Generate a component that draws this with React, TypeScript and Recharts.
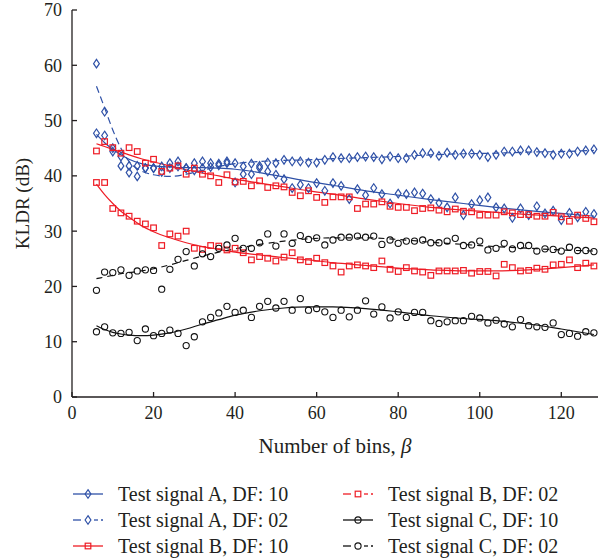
import React from 'react'
import { ComposedChart, Line, Scatter, XAxis, YAxis } from 'recharts'

const BLUE = '#2f51a7'
const RED = '#ee1c25'
const BLACK = '#111111'
const INK = '#231f20'
const serif = { fontFamily: 'Liberation Serif' }

// bin counts where KLDR was evaluated
const bins = [
  6, 8, 10, 12, 14, 16, 18, 20, 22, 24, 26, 28, 30, 32, 34, 36, 38, 40,
  42, 44, 46, 48, 50, 52, 54, 56, 58, 60, 62, 64, 66, 68, 70, 72, 74, 76, 78, 80, 82, 84,
  86, 88, 90, 92, 94, 96, 98, 100, 102, 104, 106, 108, 110, 112, 114, 116, 118, 120, 122, 124, 126, 128
]
const xTicks = [0, 20, 40, 60, 80, 100, 120]
const yTicks = [0, 10, 20, 30, 40, 50, 60, 70]

// measured KLDR (dB)
const sigA10 = [
  47.7, 47.3, 45.0, 43.5, 41.8, 41.8, 41.4, 41.4, 40.7, 41.4, 41.7, 41.4, 41.0, 41.4, 41.6, 41.9, 42.3, 38.8,
  40.3, 40.3, 41.4, 40.8, 40.2, 39.4, 37.8, 38.4, 37.8, 38.7, 37.3, 38.7, 38.2, 35.8, 37.6, 36.5, 37.8, 36.7, 35.0, 36.8, 36.7, 37.0,
  36.8, 35.8, 35.1, 34.3, 36.1, 32.9, 34.9, 35.6, 36.1, 34.3, 34.1, 32.4, 34.1, 32.9, 34.5, 33.2, 33.7, 32.0, 33.3, 32.5, 33.5, 33.1
]
const sigA02 = [
  60.3, 51.6, 44.4, 41.8, 40.6, 39.9, 41.4, 41.4, 41.7, 42.3, 42.6, 41.4, 42.3, 42.6, 42.3, 42.2, 42.6, 42.3,
  41.7, 42.2, 41.8, 42.4, 42.3, 42.9, 42.6, 42.6, 42.4, 42.4, 42.9, 43.4, 43.2, 43.2, 43.4, 43.5, 43.4, 43.0, 43.5, 43.2, 43.2, 43.8,
  44.1, 44.1, 43.6, 44.2, 43.8, 44.0, 44.0, 43.8, 43.4, 43.8, 44.4, 44.4, 44.6, 44.6, 44.3, 44.1, 43.8, 44.0, 44.0, 44.4, 44.6, 44.8
]
const sigB10 = [
  44.5, 46.2, 45.1, 44.1, 45.1, 44.4, 42.3, 43.0, 40.8, 41.4, 41.8, 40.3, 41.4, 40.3, 40.0, 38.8, 40.2, 38.9,
  39.0, 38.2, 39.1, 37.9, 38.2, 38.0, 37.0, 36.4, 37.3, 36.1, 35.2, 36.2, 36.2, 36.2, 34.1, 34.9, 34.9, 35.3, 34.5, 34.3, 34.3, 33.7,
  34.1, 34.2, 33.8, 33.5, 34.0, 33.6, 33.5, 32.9, 32.9, 32.9, 33.5, 33.3, 33.0, 33.0, 32.7, 32.7, 33.4, 32.6, 31.8, 32.9, 32.3, 31.7
]
const sigB02 = [
  38.8, 38.8, 34.1, 33.3, 32.7, 31.8, 31.3, 30.6, 27.4, 29.5, 29.1, 30.0, 26.9, 26.7, 27.4, 27.3, 26.6, 26.9,
  26.1, 24.8, 25.4, 25.1, 24.6, 25.3, 26.1, 24.8, 24.5, 25.1, 24.3, 23.7, 22.6, 23.7, 23.9, 23.7, 23.4, 24.6, 23.1, 22.7, 23.4, 22.8,
  22.6, 22.0, 22.8, 22.8, 22.8, 22.9, 22.4, 22.7, 22.7, 21.9, 24.0, 23.4, 22.8, 22.9, 23.3, 23.1, 23.9, 24.0, 24.8, 23.4, 24.2, 23.7
]
const sigC10 = [
  11.8, 12.7, 11.6, 11.5, 11.7, 10.2, 12.3, 11.1, 11.5, 12.1, 11.5, 9.3, 10.9, 13.6, 14.4, 15.2, 16.4, 15.3,
  15.7, 14.4, 16.4, 17.3, 16.1, 17.3, 15.7, 17.8, 15.7, 16.0, 15.4, 14.4, 15.7, 14.5, 15.7, 17.4, 15.0, 16.3, 14.3, 15.4, 14.4, 15.3,
  15.3, 13.8, 13.3, 13.6, 13.8, 13.8, 14.6, 14.3, 13.4, 13.9, 13.2, 12.7, 14.0, 12.9, 12.7, 12.6, 13.4, 11.3, 11.5, 11.0, 11.8, 11.6
]
const sigC02 = [
  19.3, 22.6, 22.5, 23.0, 22.0, 22.8, 23.0, 22.9, 19.5, 23.1, 24.9, 26.3, 23.7, 25.9, 25.4, 26.9, 27.5, 28.7,
  26.9, 26.9, 27.9, 29.5, 27.3, 29.5, 27.8, 29.2, 28.5, 28.8, 27.5, 28.4, 28.9, 28.9, 29.1, 28.9, 29.1, 27.6, 28.4, 27.8, 28.2, 28.2,
  28.4, 27.9, 27.9, 28.2, 28.7, 27.4, 27.5, 28.2, 26.6, 26.9, 27.8, 26.8, 27.4, 27.4, 26.4, 26.8, 26.7, 26.4, 27.1, 26.5, 26.5, 26.3
]

// smoothed trend curves, sampled at fitBins
const fitBins = [6, 8, 10, 12, 14, 17, 20, 24, 28, 32, 36, 40, 46, 52, 58, 64, 72, 80, 88, 96, 104, 112, 120, 128]
const fitA10 = [47.5, 46.0, 44.8, 43.8, 43.0, 42.2, 41.8, 41.6, 41.5, 41.5, 41.4, 41.2, 40.6, 39.8, 39.0, 38.3, 37.3, 36.5, 35.7, 35.0, 34.3, 33.7, 33.2, 32.7]
const fitA02 = [56.2, 52.3, 48.3, 45.0, 42.6, 40.9, 40.2, 39.9, 40.3, 41.0, 41.7, 42.2, 42.6, 42.8, 42.9, 43.1, 43.3, 43.5, 43.8, 44.0, 44.1, 44.3, 44.4, 44.6]
const fitB10 = [45.8, 45.3, 44.8, 44.3, 43.8, 43.1, 42.5, 41.8, 41.1, 40.5, 40.0, 39.4, 38.7, 38.0, 37.3, 36.7, 35.8, 35.0, 34.3, 33.8, 33.4, 33.0, 32.7, 32.4]
const fitB02 = [38.5, 36.6, 35.0, 33.6, 32.5, 31.0, 29.9, 28.8, 27.9, 27.2, 26.7, 26.2, 25.7, 25.2, 24.8, 24.3, 23.8, 23.3, 23.0, 22.8, 22.8, 23.0, 23.4, 23.9]
const fitC10 = [12.9, 12.2, 11.7, 11.4, 11.2, 11.1, 11.2, 11.6, 12.3, 13.2, 14.0, 14.8, 15.6, 16.1, 16.3, 16.3, 16.0, 15.4, 14.7, 14.2, 13.8, 13.2, 12.3, 11.3]
const fitC02 = [21.4, 21.7, 22.0, 22.3, 22.5, 22.8, 23.2, 23.9, 24.7, 25.5, 26.2, 26.8, 27.6, 28.2, 28.6, 28.8, 28.8, 28.5, 28.0, 27.6, 27.2, 26.9, 26.6, 26.4]

type MarkerKind = 'diamond' | 'square' | 'circle'

type SeriesDef = {
  name: string
  color: string
  marker: MarkerKind
  values: number[]
  fit: number[]
  lineDash?: string
  legendDashed: boolean
}

const series: SeriesDef[] = [
  { name: 'Test signal A, DF: 10', color: BLUE, marker: 'diamond', values: sigA10, fit: fitA10, legendDashed: false },
  { name: 'Test signal A, DF: 02', color: BLUE, marker: 'diamond', values: sigA02, fit: fitA02, lineDash: '7 4', legendDashed: true },
  { name: 'Test signal B, DF: 10', color: RED, marker: 'square', values: sigB10, fit: fitB10, legendDashed: false },
  { name: 'Test signal B, DF: 02', color: RED, marker: 'square', values: sigB02, fit: fitB02, legendDashed: true },
  { name: 'Test signal C, DF: 10', color: BLACK, marker: 'circle', values: sigC10, fit: fitC10, legendDashed: false },
  { name: 'Test signal C, DF: 02', color: BLACK, marker: 'circle', values: sigC02, fit: fitC02, lineDash: '6 5', legendDashed: true }
]

function MarkerShape({ cx, cy, kind, color }: { cx?: number; cy?: number; kind: MarkerKind; color: string }) {
  if (cx == null || cy == null) return null
  if (kind === 'diamond') {
    return (
      <path
        d={`M${cx},${cy - 4.3}L${cx + 2.9},${cy}L${cx},${cy + 4.3}L${cx - 2.9},${cy}Z`}
        fill='none'
        stroke={color}
        strokeWidth={1.2}
      />
    )
  }
  if (kind === 'square') {
    return <rect x={cx - 2.8} y={cy - 2.8} width={5.6} height={5.6} fill='none' stroke={color} strokeWidth={1.2} />
  }
  return <circle cx={cx} cy={cy} r={3.1} fill='none' stroke={color} strokeWidth={1.1} />
}

const XTick = ({ x, y, payload }: any) => (
  <text x={x} y={y} dy='0.71em' textAnchor='middle' fontSize={18} fill={INK} style={serif}>
    {payload.value}
  </text>
)

const YTick = ({ x, y, payload }: any) => (
  <text x={x} y={y} dy='0.355em' textAnchor='end' fontSize={18} fill={INK} style={serif}>
    {payload.value}
  </text>
)

const XTitle = ({ viewBox }: any) => {
  const cx = viewBox.x + viewBox.width / 2
  return (
    <text x={cx} y={viewBox.y + 55.5} textAnchor='middle' fontSize={21} fill={INK} style={serif}>
      Number of bins, <tspan fontStyle='italic'>β</tspan>
    </text>
  )
}

const YTitle = ({ viewBox }: any) => {
  const cx = 22
  const cy = viewBox.y + viewBox.height / 2
  return (
    <text
      x={cx}
      y={cy}
      transform={`rotate(-90 ${cx} ${cy})`}
      textAnchor='middle'
      dominantBaseline='central'
      fontSize={19}
      fill={INK}
      style={serif}
    >
      KLDR (dB)
    </text>
  )
}

function LegendIcon({ s, x, y }: { s: SeriesDef; x: number; y: number }) {
  const mid = x + 15
  return (
    <g>
      {s.legendDashed ? (
        <>
          <line x1={x} y1={y} x2={x + 8} y2={y} stroke={s.color} strokeWidth={1.3} />
          <line x1={x + 21} y1={y} x2={x + 25} y2={y} stroke={s.color} strokeWidth={1.3} />
          <line x1={x + 28} y1={y} x2={x + 30} y2={y} stroke={s.color} strokeWidth={1.3} />
        </>
      ) : (
        <line x1={x} y1={y} x2={x + 30} y2={y} stroke={s.color} strokeWidth={1.3} />
      )}
      <MarkerShape cx={mid} cy={y} kind={s.marker} color={s.color} />
    </g>
  )
}

function ChartLegend() {
  return (
    <svg width={601} height={78} style={{ position: 'absolute', left: 0, top: 480 }}>
      {series.map((s, i) => {
        const col = Math.floor(i / 3)
        const row = i % 3
        const x = 73 + col * 270
        const y = 14 + row * 26
        return (
          <g key={s.name}>
            <LegendIcon s={s} x={x} y={y} />
            <text x={x + 45} y={y + 6.5} fontSize={20} fill={INK} style={serif}>
              {s.name}
            </text>
          </g>
        )
      })}
    </svg>
  )
}

export default function App() {
  const axisStroke = { stroke: INK, strokeWidth: 1.3 }
  return (
    <div style={{ position: 'absolute', left: 0, top: 0, width: 601, height: 558, background: '#fff' }}>
      <ComposedChart width={601} height={558} margin={{ top: 10, right: 3, bottom: 121, left: 12 }}>
        <XAxis
          dataKey='x'
          type='number'
          domain={[0, 129]}
          ticks={xTicks}
          allowDataOverflow
          height={40}
          tickSize={-5}
          tickMargin={14}
          axisLine={axisStroke}
          tickLine={axisStroke}
          tick={<XTick />}
          label={<XTitle />}
        />
        <XAxis
          xAxisId='top'
          orientation='top'
          dataKey='x'
          type='number'
          domain={[0, 129]}
          ticks={xTicks}
          allowDataOverflow
          height={0}
          tickSize={-5}
          axisLine={axisStroke}
          tickLine={axisStroke}
          tick={false}
        />
        <YAxis
          dataKey='y'
          type='number'
          domain={[0, 70]}
          ticks={yTicks}
          allowDataOverflow
          width={60}
          tickSize={-5}
          tickMargin={15}
          axisLine={axisStroke}
          tickLine={axisStroke}
          tick={<YTick />}
          label={<YTitle />}
        />
        <YAxis
          yAxisId='right'
          orientation='right'
          dataKey='y'
          type='number'
          domain={[0, 70]}
          ticks={yTicks}
          allowDataOverflow
          width={0}
          tickSize={-5}
          axisLine={axisStroke}
          tickLine={axisStroke}
          tick={false}
        />
        {series.map((s) => (
          <Line
            key={`fit-${s.name}`}
            data={fitBins.map((b, i) => ({ x: b, y: s.fit[i] }))}
            dataKey='y'
            type='monotone'
            stroke={s.color}
            strokeWidth={1.2}
            strokeDasharray={s.lineDash}
            dot={false}
            activeDot={false}
            isAnimationActive={false}
          />
        ))}
        {series.map((s) => (
          <Scatter
            key={`pts-${s.name}`}
            data={bins.map((b, i) => ({ x: b, y: s.values[i] }))}
            dataKey='y'
            isAnimationActive={false}
            shape={(p: any) => <MarkerShape cx={p.cx} cy={p.cy} kind={s.marker} color={s.color} />}
          />
        ))}
      </ComposedChart>
      <ChartLegend />
    </div>
  )
}
